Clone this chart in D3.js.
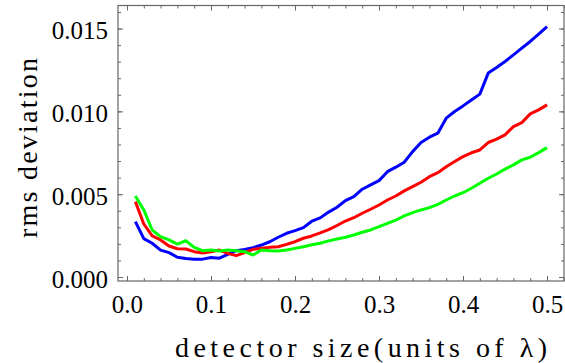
<!DOCTYPE html>
<html>
<head>
<meta charset="utf-8">
<script src="https://cdn.jsdelivr.net/npm/d3@7"></script>
<style>
  body { margin: 0; background: #fff; }
  text { font-family: "Liberation Serif", "DejaVu Serif", serif; }
</style>
</head>
<body>
<div id="chart"></div>
<script>
// detector size (units of lambda)
const sizes = [0.01, 0.02, 0.03, 0.04, 0.05, 0.06, 0.07, 0.08, 0.09, 0.10,
  0.11, 0.12, 0.13, 0.14, 0.15, 0.16, 0.17, 0.18, 0.19, 0.20,
  0.21, 0.22, 0.23, 0.24, 0.25, 0.26, 0.27, 0.28, 0.29, 0.30,
  0.31, 0.32, 0.33, 0.34, 0.35, 0.36, 0.37, 0.38, 0.39, 0.40,
  0.41, 0.42, 0.43, 0.44, 0.45, 0.46, 0.47, 0.48, 0.49, 0.50];

// rms deviation, in units of 1e-3
const blueVals = [3.34, 2.32, 2.04, 1.62, 1.47, 1.19, 1.12, 1.07, 1.08, 1.18,
  1.14, 1.37, 1.59, 1.67, 1.77, 1.93, 2.13, 2.40, 2.64, 2.80,
  2.98, 3.37, 3.57, 3.92, 4.21, 4.61, 4.85, 5.30, 5.56, 5.82,
  6.36, 6.63, 6.93, 7.57, 8.12, 8.44, 8.68, 9.59, 9.99, 10.33,
  10.69, 11.04, 12.31, 12.65, 13.01, 13.41, 13.82, 14.22, 14.66, 15.12];

const redVals = [4.55, 3.20, 2.48, 2.24, 1.87, 1.71, 1.69, 1.53, 1.45, 1.53,
  1.63, 1.43, 1.29, 1.47, 1.67, 1.73, 1.79, 1.83, 1.97, 2.13,
  2.34, 2.48, 2.66, 2.86, 3.11, 3.38, 3.58, 3.85, 4.09, 4.35,
  4.65, 4.89, 5.20, 5.46, 5.72, 6.06, 6.30, 6.66, 6.97, 7.27,
  7.50, 7.67, 8.12, 8.32, 8.58, 9.08, 9.32, 9.85, 10.09, 10.39];

const greenVals = [4.89, 4.05, 2.84, 2.44, 2.24, 1.99, 2.19, 1.79, 1.59, 1.63,
  1.57, 1.63, 1.59, 1.53, 1.33, 1.63, 1.59, 1.57, 1.63, 1.73,
  1.83, 1.95, 2.04, 2.18, 2.30, 2.40, 2.54, 2.70, 2.84, 3.04,
  3.24, 3.44, 3.69, 3.89, 4.05, 4.19, 4.39, 4.65, 4.89, 5.09,
  5.36, 5.66, 5.96, 6.22, 6.51, 6.77, 7.07, 7.23, 7.51, 7.81];

const xTicks = [0.0, 0.1, 0.2, 0.3, 0.4, 0.5];
const yTicks = [0.000, 0.005, 0.010, 0.015];

const series = [
  { name: "blue", color: "#0000ff", values: blueVals },
  { name: "red", color: "#ff0000", values: redVals },
  { name: "green", color: "#00ff00", values: greenVals },
];

const width = 565;
const height = 363;
const plotL = 118, plotR = 564, plotT = 5.5, plotB = 281;

const svg = d3.select("#chart")
  .append("svg")
  .attr("width", width)
  .attr("height", height);

const x = d3.scaleLinear().domain([-0.0107, 0.5202]).range([plotL, plotR]);
const y = d3.scaleLinear().domain([-0.00024, 0.01639]).range([plotB, plotT]);

const frameColor = "#666";

// minor ticks
const xMinor = d3.range(0, 0.5201, 0.02);
const yMinor = d3.range(0, 0.01601, 0.001);

function styleAxis(g) {
  g.select(".domain").remove();
  g.selectAll(".tick line").attr("stroke", frameColor);
  g.selectAll(".tick text")
    .attr("fill", "#000")
    .style("font-family", '"Liberation Serif", serif')
    .style("font-size", "25px");
}

// bottom
svg.append("g").attr("transform", `translate(0,${plotB})`)
  .call(d3.axisBottom(x).tickValues(xMinor).tickSize(-3).tickFormat(""))
  .call(styleAxis);
svg.append("g").attr("transform", `translate(0,${plotB})`)
  .call(d3.axisBottom(x).tickValues(xTicks).tickSize(-5).tickPadding(14).tickFormat(d3.format(".1f")))
  .call(styleAxis);
// top
svg.append("g").attr("transform", `translate(0,${plotT})`)
  .call(d3.axisTop(x).tickValues(xMinor).tickSize(-3).tickFormat(""))
  .call(styleAxis);
svg.append("g").attr("transform", `translate(0,${plotT})`)
  .call(d3.axisTop(x).tickValues(xTicks).tickSize(-5).tickFormat(""))
  .call(styleAxis);
// left
svg.append("g").attr("transform", `translate(${plotL},0)`)
  .call(d3.axisLeft(y).tickValues(yMinor).tickSize(-3).tickFormat(""))
  .call(styleAxis);
const yAxisG = svg.append("g").attr("transform", `translate(${plotL},0)`)
  .call(d3.axisLeft(y).tickValues(yTicks).tickSize(-5).tickPadding(10).tickFormat(d3.format(".3f")))
  .call(styleAxis);
yAxisG.selectAll(".tick text").attr("dy", "0.4em");
// right
svg.append("g").attr("transform", `translate(${plotR},0)`)
  .call(d3.axisRight(y).tickValues(yMinor).tickSize(-3).tickFormat(""))
  .call(styleAxis);
svg.append("g").attr("transform", `translate(${plotR},0)`)
  .call(d3.axisRight(y).tickValues(yTicks).tickSize(-5).tickFormat(""))
  .call(styleAxis);

// frame
svg.append("rect")
  .attr("x", plotL)
  .attr("y", plotT)
  .attr("width", plotR - plotL)
  .attr("height", plotB - plotT)
  .attr("fill", "none")
  .attr("stroke", frameColor)
  .attr("stroke-width", 1.2);

const line = d3.line()
  .x((d, i) => x(sizes[i]))
  .y((d) => y(d / 1000));

svg.append("g")
  .selectAll("path")
  .data(series)
  .join("path")
  .attr("fill", "none")
  .attr("stroke", (d) => d.color)
  .attr("stroke-width", 3)
  .attr("stroke-linejoin", "round")
  .attr("d", (d) => line(d.values));

// axis labels
svg.append("text")
  .attr("x", 175)
  .attr("y", 357)
  .attr("textLength", 372)
  .attr("lengthAdjust", "spacing")
  .style("font-size", "28px")
  .text("detector size(units of λ)");

svg.append("text")
  .attr("transform", "translate(37,238) rotate(-90)")
  .attr("x", 0)
  .attr("y", 0)
  .attr("textLength", 180)
  .attr("lengthAdjust", "spacing")
  .style("font-size", "28px")
  .text("rms deviation");
</script>
</body>
</html>
